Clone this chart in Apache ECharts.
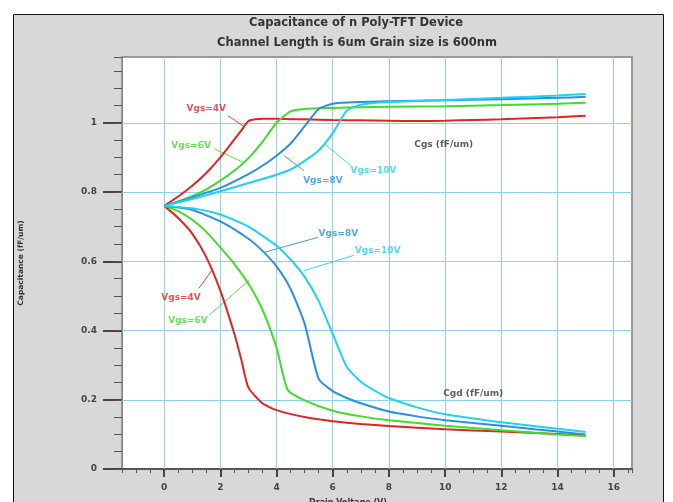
<!DOCTYPE html>
<html><head><meta charset="utf-8">
<script src="https://cdn.jsdelivr.net/npm/echarts@6/dist/echarts.min.js"></script>
<style>html,body{margin:0;padding:0;background:#fff}#c{width:673px;height:502px}</style>
</head><body><div id="c"></div>
<script>
// ---- tick labels ----
const xTickLabels = [0, 2, 4, 6, 8, 10, 12, 14, 16];
const yTickLabels = [0, 0.2, 0.4, 0.6, 0.8, 1];

// ---- Cgs curves (drain voltage, capacitance) ----
const cgs4X = [0, 0.5, 1, 1.5, 2, 2.5, 2.75, 3, 3.5, 4, 5, 6, 7, 8, 9, 10, 11, 12, 13, 14, 15];
const cgs4Y = [0.76, 0.787, 0.818, 0.855, 0.9, 0.952, 0.978, 1.005, 1.012, 1.012, 1.01, 1.008, 1.007, 1.006, 1.005, 1.006, 1.008, 1.01, 1.013, 1.016, 1.02];
const cgs6X = [0, 0.5, 1, 1.5, 2, 2.5, 3, 3.5, 4, 4.5, 5, 6, 7, 8, 10, 12, 14, 15];
const cgs6Y = [0.76, 0.773, 0.788, 0.808, 0.833, 0.862, 0.898, 0.945, 1.0, 1.033, 1.04, 1.043, 1.045, 1.046, 1.048, 1.051, 1.055, 1.058];
const cgs8X = [0, 1, 2, 3, 3.5, 4, 4.5, 5, 5.5, 6, 7, 8, 10, 12, 14, 15];
const cgs8Y = [0.76, 0.785, 0.812, 0.852, 0.876, 0.905, 0.94, 0.99, 1.04, 1.055, 1.06, 1.062, 1.065, 1.068, 1.072, 1.075];
const cgs10X = [0, 1, 2, 3, 4, 4.5, 5, 5.5, 6, 6.5, 7, 8, 10, 12, 14, 15];
const cgs10Y = [0.76, 0.78, 0.802, 0.826, 0.85, 0.865, 0.89, 0.92, 0.97, 1.035, 1.052, 1.06, 1.066, 1.072, 1.079, 1.083];

// ---- Cgd curves ----
const cgd4X = [0, 0.5, 1, 1.5, 2, 2.5, 2.75, 3, 3.5, 4, 5, 6, 7, 8, 10, 12, 14, 15];
const cgd4Y = [0.76, 0.725, 0.68, 0.612, 0.515, 0.39, 0.315, 0.235, 0.19, 0.17, 0.15, 0.138, 0.13, 0.124, 0.115, 0.108, 0.101, 0.097];
const cgd6X = [0, 0.5, 1, 1.5, 2, 2.5, 3, 3.5, 4, 4.4, 5, 6, 7, 8, 10, 12, 14, 15];
const cgd6Y = [0.76, 0.745, 0.72, 0.685, 0.64, 0.592, 0.535, 0.46, 0.35, 0.228, 0.198, 0.168, 0.152, 0.141, 0.125, 0.112, 0.1, 0.095];
const cgd8X = [0, 1, 2, 3, 3.5, 4, 4.5, 5, 5.5, 6, 6.5, 7, 8, 9, 10, 12, 14, 15];
const cgd8Y = [0.76, 0.748, 0.715, 0.665, 0.63, 0.585, 0.52, 0.42, 0.26, 0.225, 0.205, 0.19, 0.166, 0.152, 0.141, 0.125, 0.108, 0.1];
const cgd10X = [0, 1, 2, 3, 4, 4.5, 5, 5.5, 6, 6.5, 7, 7.5, 8, 9, 10, 12, 14, 15];
const cgd10Y = [0.76, 0.753, 0.735, 0.7, 0.645, 0.605, 0.555, 0.485, 0.39, 0.295, 0.252, 0.226, 0.205, 0.178, 0.158, 0.135, 0.116, 0.107];

// ---- annotations ----
const labelTexts = ['Vgs=4V', 'Vgs=6V', 'Vgs=8V', 'Vgs=10V', 'Vgs=8V', 'Vgs=10V', 'Vgs=4V', 'Vgs=6V', 'Cgs (fF/um)', 'Cgd (fF/um)'];
const labelX = [1.5, 0.96, 5.65, 7.45, 6.2, 7.6, 0.6, 0.85, 9.95, 11.0];
const labelY = [1.04, 0.934, 0.833, 0.862, 0.68, 0.631, 0.496, 0.429, 0.937, 0.219];
const labelKey = ['v4', 'v6', 'v8', 'v10', 'v8', 'v10', 'v4', 'v6', 'k', 'k'];
const leaderFrom = [[2.28, 1.02], [1.78, 0.925], [4.98, 0.862], [6.65, 0.876], [5.47, 0.669], [6.75, 0.617], [1.24, 0.522], [1.6, 0.444]];
const leaderTo = [[2.81, 0.991], [2.84, 0.885], [4.27, 0.905], [5.69, 0.94], [3.52, 0.625], [4.98, 0.573], [1.74, 0.579], [3.02, 0.545]];
const leaderKey = ['v4', 'v6', 'v8', 'v10', 'v8', 'v10', 'v4', 'v6'];

const colors = { v4: '#e02424', v6: '#3fdc2c', v8: '#2b8fe0', v10: '#22d0f0', k: '#333333' };
const gridColor = '#8fd0ea';
const FONT = 'DejaVu Sans';

const zip = (xs, ys) => xs.map((x, i) => [x, ys[i]]);
function curve(name, xs, ys, key) {
  return {
    type: 'line', name, data: zip(xs, ys), xAxisIndex: 0, yAxisIndex: 0,
    showSymbol: false, smooth: 0.2, z: 5, silent: true,
    lineStyle: { color: colors[key], width: 2 }, itemStyle: { color: colors[key] }
  };
}

const gridLineData = [];
xTickLabels.forEach(v => gridLineData.push({ coords: [[v, 0], [v, 1.19]] }));
yTickLabels.filter(v => v > 0).forEach(v => gridLineData.push({ coords: [[-1.5, v], [16.65, v]] }));

const chart = echarts.init(document.getElementById('c'), null, { renderer: 'canvas' });
chart.setOption({
  animation: false,
  backgroundColor: '#ffffff',
  graphic: [
    { type: 'rect', z: -10, shape: { x: 13.5, y: 14.5, width: 650, height: 500 },
      style: { fill: '#d8d8d8', stroke: '#111', lineWidth: 1 } },
    { type: 'text', z: 10, x: 356, y: 23, style: { text: 'Capacitance of n Poly-TFT Device', fill: '#333', font: 'bold 11.5px "DejaVu Sans"', textAlign: 'center', textVerticalAlign: 'middle' } },
    { type: 'text', z: 10, x: 357, y: 43, style: { text: 'Channel Length is 6um Grain size is 600nm', fill: '#333', font: 'bold 11.5px "DejaVu Sans"', textAlign: 'center', textVerticalAlign: 'middle' } },
    { type: 'text', z: 10, x: 348, y: 503, style: { text: 'Drain Voltage (V)', fill: '#333', font: 'bold 8px "DejaVu Sans"', textAlign: 'center', textVerticalAlign: 'middle' } }
  ],
  grid: { left: 122, top: 57, width: 510, height: 412, show: true, backgroundColor: '#ffffff', borderColor: '#999', borderWidth: 2, containLabel: false },
  xAxis: [
    { type: 'value', min: -1.5, max: 16.65, interval: 0.5, position: 'bottom',
      axisLine: { show: true, onZero: false, lineStyle: { color: '#555', width: 2 } },
      axisTick: { show: true, length: 4, lineStyle: { color: '#555', width: 1 } },
      axisLabel: { show: false }, splitLine: { show: false } },
    { type: 'value', min: -1.5, max: 16.65, position: 'bottom',
      axisLine: { show: false, onZero: false },
      axisTick: { show: true, customValues: xTickLabels, length: 8, lineStyle: { color: '#444', width: 2 } },
      axisLabel: { show: true, customValues: xTickLabels, margin: 14, fontSize: 9, fontWeight: 'bold', fontFamily: FONT, color: '#444' },
      splitLine: { show: false } }
  ],
  yAxis: [
    { type: 'value', min: 0, max: 1.19, position: 'left',
      name: 'Capacitance (fF/um)', nameLocation: 'middle', nameGap: 97,
      nameTextStyle: { fontSize: 7.5, fontWeight: 'bold', fontFamily: FONT, color: '#333' },
      axisLine: { show: true, onZero: false, lineStyle: { color: '#888', width: 1 } },
      axisTick: { show: true, customValues: yTickLabels, length: 19, lineStyle: { color: '#444', width: 2 } },
      axisLabel: { show: true, customValues: yTickLabels, margin: 25, fontSize: 9, fontWeight: 'bold', fontFamily: FONT, color: '#444',
        formatter: v => String(Math.round(v * 10) / 10) },
      splitLine: { show: false } },
    { type: 'value', min: 0, max: 1.19, interval: 0.05, position: 'left',
      axisLine: { show: false, onZero: false },
      axisTick: { show: true, length: 8, lineStyle: { color: '#555', width: 1 } },
      axisLabel: { show: false }, splitLine: { show: false } }
  ],
  series: [
    { type: 'lines', coordinateSystem: 'cartesian2d', xAxisIndex: 0, yAxisIndex: 0, z: 1, silent: true,
      data: gridLineData, lineStyle: { color: gridColor, width: 1, opacity: 1 } },
    { type: 'lines', coordinateSystem: 'cartesian2d', xAxisIndex: 0, yAxisIndex: 0, z: 3, silent: true,
      data: leaderFrom.map((p, i) => ({ coords: [p, leaderTo[i]], lineStyle: { color: colors[leaderKey[i]] } })),
      lineStyle: { width: 1, opacity: 0.9 } },
    curve('Cgs 4V', cgs4X, cgs4Y, 'v4'),
    curve('Cgs 6V', cgs6X, cgs6Y, 'v6'),
    curve('Cgs 8V', cgs8X, cgs8Y, 'v8'),
    curve('Cgs 10V', cgs10X, cgs10Y, 'v10'),
    curve('Cgd 4V', cgd4X, cgd4Y, 'v4'),
    curve('Cgd 6V', cgd6X, cgd6Y, 'v6'),
    curve('Cgd 8V', cgd8X, cgd8Y, 'v8'),
    curve('Cgd 10V', cgd10X, cgd10Y, 'v10'),
    { type: 'scatter', xAxisIndex: 0, yAxisIndex: 0, z: 8, silent: true, symbolSize: 1,
      itemStyle: { color: 'rgba(0,0,0,0)' },
      data: labelTexts.map((t, i) => ({
        name: t, value: [labelX[i], labelY[i]],
        label: { color: colors[labelKey[i]], fontSize: 9 }
      })),
      label: { show: true, position: 'inside', formatter: '{b}', fontWeight: 'bold', fontFamily: FONT } }
  ]
});
</script>
</body></html>
